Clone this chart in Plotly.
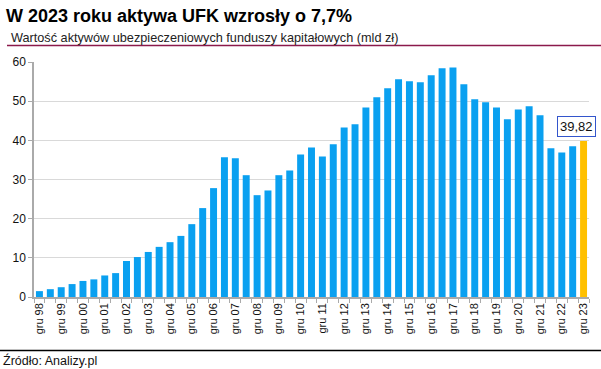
import plotly.graph_objects as go

years = [f"{y % 100:02d}" for y in range(1998, 2024)]
categories = []
for i, yy in enumerate(years):
    if i > 0:
        categories.append(f"cze {yy}")
    categories.append(f"gru {yy}")

values = [1.5, 2.0, 2.5, 3.3, 4.1, 4.5, 5.5, 6.1, 9.2, 10.2,
          11.5, 12.8, 14.0, 15.6, 18.6, 22.7, 27.8, 35.7, 35.4, 31.1,
          26.0, 27.2, 31.1, 32.3, 36.4, 38.2, 35.9, 39.0, 43.3, 44.1,
          48.4, 51.0, 53.3, 55.6, 55.1, 54.8, 56.6, 58.4, 58.6, 54.3,
          50.5, 49.7, 48.4, 45.4, 47.9, 48.7, 46.4, 38.0, 36.9, 38.5,
          39.82]

tick_labels = [c if c.startswith("gru") else "" for c in categories]
y_ticks = [0, 10, 20, 30, 40, 50, 60]

title = "W 2023 roku aktywa UFK wzrosły o 7,7%"
subtitle = "Wartość aktywów ubezpieczeniowych funduszy kapitałowych (mld zł)"
source = "Źródło: Analizy.pl"
last_label = "39,82"

colors = ["#0AA0F0"] * (len(values) - 1) + ["#FFC000"]

fig = go.Figure(go.Bar(x=categories, y=values, marker=dict(color=colors, line=dict(width=0)),
                       width=0.64, hoverinfo="x+y"))

font = "Liberation Sans"
PW, PH = 555, 235  # plot area size in px
L, T = 34, 62

fig.update_layout(
    width=601, height=369,
    margin=dict(l=L, r=601 - L - PW, t=T, b=369 - T - PH),
    paper_bgcolor="white", plot_bgcolor="white",
    showlegend=False,
    font=dict(family=font, color="#222222"),
    xaxis=dict(
        type="category", tickmode="array", tickvals=categories, ticktext=tick_labels,
        tickangle=-90, tickfont=dict(size=11, color="#111111"),
        ticks="outside", ticklen=4, tickcolor="#AAAAAA", tickson="boundaries",
        showline=True, linecolor="#AAAAAA", linewidth=1.5, showgrid=False,
        range=[-0.5, len(categories) - 0.5],
    ),
    yaxis=dict(
        range=[0, 60], tickvals=y_ticks, tickfont=dict(size=12, color="#111111"),
        ticks="outside", ticklen=4, tickcolor="#AAAAAA",
        showline=True, linecolor="#AAAAAA", linewidth=1.5,
        showgrid=True, gridcolor="#D9D9D9", gridwidth=1, zeroline=False,
    ),
)


def px_x(x):
    return (x - L) / PW


def px_y(y):
    return 1 - (y - T) / PH


# Title and subtitle
fig.add_annotation(xref="paper", yref="paper", x=px_x(4), xanchor="left",
                   y=px_y(16), yanchor="middle",
                   text=f"<b>{title}</b>", showarrow=False,
                   font=dict(size=18, color="#000000", family=font))
fig.add_annotation(xref="paper", yref="paper", x=px_x(9), xanchor="left",
                   y=px_y(37.5), yanchor="middle",
                   text=subtitle, showarrow=False,
                   font=dict(size=12.7, color="#222222", family=font))
fig.add_shape(type="line", xref="paper", yref="paper",
              x0=px_x(7), x1=px_x(601), y0=px_y(45.5), y1=px_y(45.5),
              line=dict(color="#8B1A4B", width=1.5))

# Footer
fig.add_shape(type="line", xref="paper", yref="paper",
              x0=px_x(0), x1=px_x(601), y0=px_y(350.5), y1=px_y(350.5),
              line=dict(color="#000000", width=1.5))
fig.add_annotation(xref="paper", yref="paper", x=px_x(1), xanchor="left",
                   y=px_y(360), yanchor="middle",
                   text=source, showarrow=False,
                   font=dict(size=12.5, color="#111111", family=font))

# Value label on the last bar
fig.add_annotation(x=categories[-1], y=values[-1], yanchor="bottom", yshift=4, xshift=-7,
                   text=last_label, showarrow=False,
                   font=dict(size=13, color="#111111", family=font),
                   bordercolor="#3355CC", borderwidth=1, borderpad=2, bgcolor="white")

fig.write_html("out.html", config={"displayModeBar": False},
               post_script="document.body.style.margin='0';")
